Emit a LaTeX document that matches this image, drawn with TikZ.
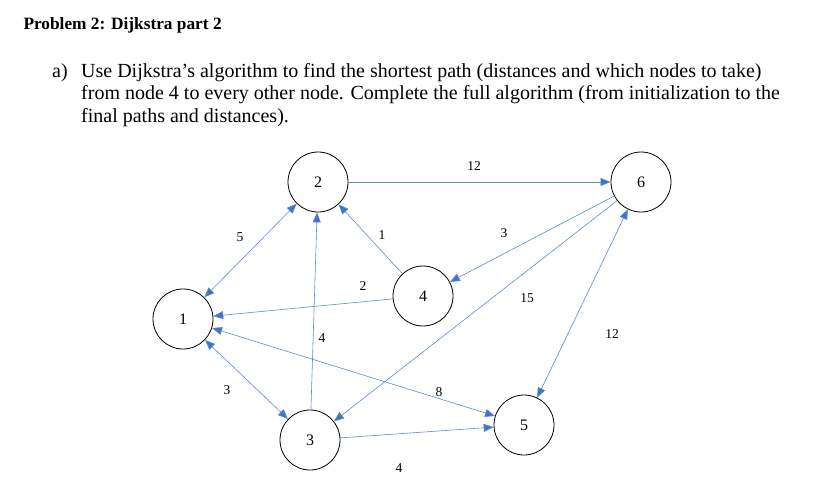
\documentclass[tikz,border=0pt]{standalone}
\usepackage{fontspec}
\setmainfont{Liberation Serif}
\usetikzlibrary{arrows.meta}
\definecolor{edgeblue}{RGB}{91,140,205}
\definecolor{tipblue}{RGB}{68,114,196}
\begin{document}
\begin{tikzpicture}[x=1pt,y=-1pt,
  vertex/.style={draw,thick,circle,minimum size=60pt,inner sep=0pt,font=\fontsize{16}{16}\selectfont},
  link/.style={draw=edgeblue,line width=0.6pt,-{Triangle[length=10pt,width=8pt,fill=tipblue]}},
  both/.style={link,{Triangle[length=10pt,width=8pt,fill=tipblue]}-{Triangle[length=10pt,width=8pt,fill=tipblue]}},
  weight/.style={font=\fontsize{13.5}{13.5}\selectfont}]
  \useasboundingbox (0,0) rectangle (815,479);

  \node [anchor=west,font=\fontsize{17.3}{17.3}\selectfont\bfseries] (title) at (20,25) {Problem 2: Dijkstra part 2};
  \node [anchor=north west,inner sep=0pt,font=\fontsize{20}{20}\selectfont] (item) at (52,63) {a)};
  \node [anchor=north west,align=left,inner sep=0pt,font=\fontsize{20}{22.5}\selectfont] (task) at (81,63)
    {Use Dijkstra’s algorithm to find the shortest path (distances and which nodes to take)\\
     from node 4 to every other node. Complete the full algorithm (from initialization to the\\
     final paths and distances).};

  \node [vertex] (n1) at (183,319) {1};
  \node [vertex] (n2) at (318,182) {2};
  \node [vertex] (n3) at (310,440) {3};
  \node [vertex] (n4) at (423,296) {4};
  \node [vertex] (n5) at (524,425) {5};
  \node [vertex] (n6) at (641,182) {6};

  \path [both] (n1) -- (n2);
  \path [both] (n1) -- (n3);
  \path [both] (n1) -- (n5);
  \path [both] (n6) -- (n5);
  \path [link] (n3) -- (n2);
  \path [link] (n4) -- (n2);
  \path [link] (n4) -- (n1);
  \path [link] (n2) -- (n6);
  \path [link] (n6) -- (n4);
  \path [link] (n6) -- (n3);
  \path [link] (n3) -- (n5);

  \node [weight] (w12) at (240,237) {5};
  \node [weight] (w13) at (227,390) {3};
  \node [weight] (w32) at (322,338) {4};
  \node [weight] (w42) at (382,235) {1};
  \node [weight] (w41) at (363,286) {2};
  \node [weight] (w26) at (474,166) {12};
  \node [weight] (w64) at (504,233) {3};
  \node [weight] (w63) at (527,298) {15};
  \node [weight] (w65) at (612,334) {12};
  \node [weight] (w15) at (439,392) {8};
  \node [weight] (w35) at (399,468) {4};
\end{tikzpicture}
\end{document}
